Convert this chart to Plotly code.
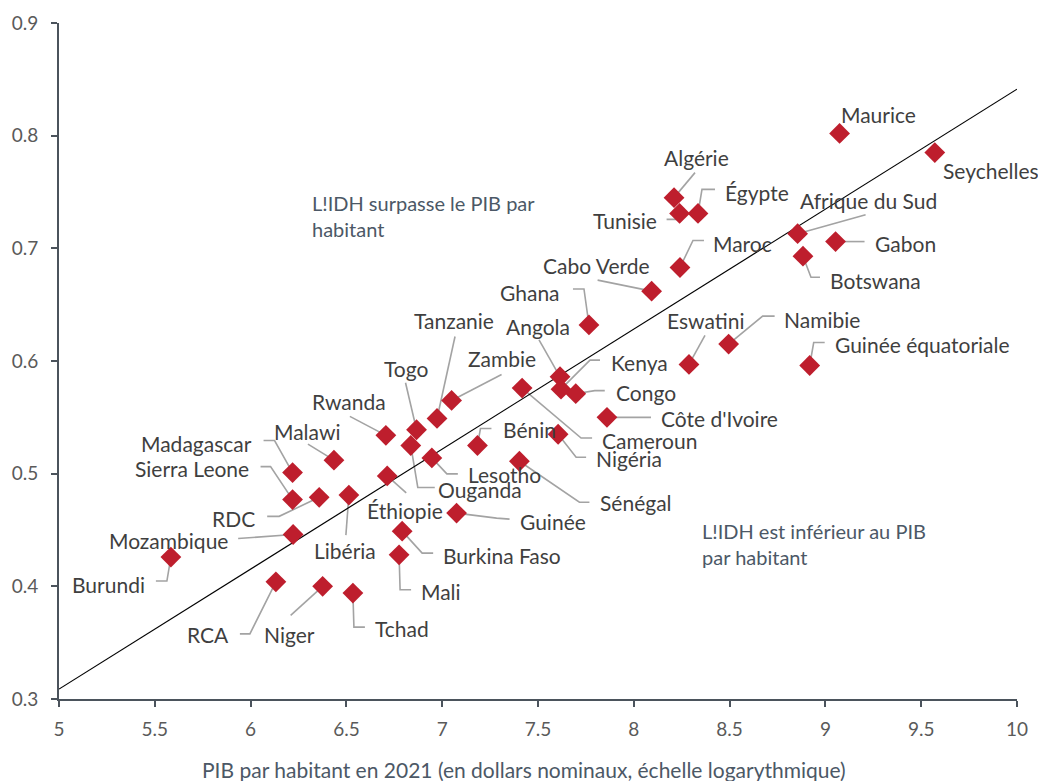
import plotly.graph_objects as go

# ---------------- data ----------------
countries = [
    "Maurice", "Seychelles", "Algérie", "Égypte", "Tunisie", "Afrique du Sud",
    "Gabon", "Botswana", "Maroc", "Cabo Verde", "Ghana", "Angola", "Kenya",
    "Congo", "Côte d'Ivoire", "Cameroun", "Nigéria", "Sénégal", "Bénin",
    "Zambie", "Tanzanie", "Togo", "Rwanda", "Ouganda", "Lesotho", "Malawi",
    "Madagascar", "Sierra Leone", "RDC", "Libéria", "Éthiopie", "Mozambique",
    "Burundi", "RCA", "Niger", "Tchad", "Mali", "Burkina Faso", "Guinée",
    "Namibie", "Eswatini", "Guinée équatoriale",
]
log_gdp = [
    9.074, 9.571, 8.210, 8.335, 8.239, 8.855,
    9.053, 8.883, 8.241, 8.093, 7.766, 7.615, 7.620,
    7.697, 7.860, 7.417, 7.605, 7.403, 7.184,
    7.049, 6.973, 6.866, 6.706, 6.836, 6.946, 6.435,
    6.219, 6.219, 6.358, 6.513, 6.713, 6.222,
    5.584, 6.132, 6.376, 6.534, 6.775, 6.791, 7.075,
    8.495, 8.288, 8.918,
]
hdi = [
    0.802, 0.785, 0.745, 0.731, 0.731, 0.713,
    0.706, 0.693, 0.683, 0.662, 0.632, 0.586, 0.575,
    0.571, 0.550, 0.576, 0.535, 0.511, 0.525,
    0.565, 0.549, 0.539, 0.534, 0.525, 0.514, 0.512,
    0.501, 0.477, 0.479, 0.481, 0.498, 0.446,
    0.426, 0.404, 0.400, 0.394, 0.428, 0.449, 0.465,
    0.615, 0.597, 0.596,
]

x_ticks = [5, 5.5, 6, 6.5, 7, 7.5, 8, 8.5, 9, 9.5, 10]
y_ticks = [0.3, 0.4, 0.5, 0.6, 0.7, 0.8, 0.9]

trend_slope = 0.1065
trend_intercept = -0.2237
trend_x = [5, 10]

x_title = "PIB par habitant en 2021 (en dollars nominaux, échelle logarythmique)"
note_above = "L!IDH surpasse le PIB par<br>habitant"
note_below = "L!IDH est inférieur au PIB<br>par habitant"

# ---------------- label placement (screen-pixel offsets from each point) ----------------
# anchor, label dx, label dy, leader path offsets (dy positive = downward on screen)
label_style = {
    "Maurice": ("center", 39, -19, []),
    "Seychelles": ("left", 6, 18, []),
    "Algérie": ("center", 22, -40, [(21, -25), (0, 0)]),
    "Égypte": ("left", 25, -21, [(17, -24), (4, -24), (0, 0)]),
    "Tunisie": ("right", -21, 7, [(-13, 6), (0, 6), (0, 0)]),
    "Afrique du Sud": ("left", 0, -33, [(68, -19), (0, 0)]),
    "Gabon": ("left", 37, 2, [(29, 0), (0, 0)]),
    "Botswana": ("left", 25, 24, [(17, 21), (8, 21), (0, 0)]),
    "Maroc": ("left", 31, -24, [(24, -27), (13, -27), (0, 0)]),
    "Cabo Verde": ("right", 0, -26, [(-54, -11), (0, 0)]),
    "Ghana": ("right", -27, -32, [(-16, -36), (-5, -36), (0, 0)]),
    "Angola": ("center", -22, -50, [(-21, -37), (0, 0)]),
    "Kenya": ("left", 48, -27, [(39, -29), (29, -29), (0, 0)]),
    "Congo": ("left", 38, -1, [(29, -3), (19, -3), (0, 0)]),
    "Côte d'Ivoire": ("left", 52, 1, [(44, 0), (0, 0)]),
    "Cameroun": ("left", 78, 52, [(70, 50), (59, 50), (0, 0)]),
    "Nigéria": ("left", 36, 24, [(28, 23), (18, 23), (0, 0)]),
    "Sénégal": ("left", 79, 41, [(70, 41), (60, 41), (0, 0)]),
    "Bénin": ("left", 24, -16, [(14, -17), (3, -17), (0, 0)]),
    "Zambie": ("center", 50, -42, [(50, -26), (0, 0)]),
    "Tanzanie": ("center", 17, -98, [(18, -82), (0, 0)]),
    "Togo": ("center", -11, -61, [(-11, -47), (0, 0)]),
    "Rwanda": ("center", -37, -34, [(-36, -19), (0, 0)]),
    "Ouganda": ("left", 25, 44, [(24, 42), (7, 42), (0, 0)]),
    "Lesotho": ("left", 34, 17, [(26, 16), (15, 16), (0, 0)]),
    "Malawi": ("center", -26, -29, [(-26, -16), (0, 0)]),
    "Madagascar": ("right", -39, -29, [(-29, -32), (-18, -32), (0, 0)]),
    "Sierra Leone": ("right", -42, -31, [(-32, -33), (-22, -33), (0, 0)]),
    "RDC": ("right", -62, 21, [(-52, 19), (-40, 19), (0, 0)]),
    "Libéria": ("center", -4, 55, [(-3, 40), (0, 0)]),
    "Éthiopie": ("center", 18, 35, [(19, 17), (0, 0)]),
    "Mozambique": ("right", -63, 6, [(-55, 4), (0, 0)]),
    "Burundi": ("right", -24, 27, [(-15, 24), (-4, 24), (0, 0)]),
    "RCA": ("right", -45, 53, [(-36, 52), (-26, 52), (0, 0)]),
    "Niger": ("center", -33, 48, [(-32, 29), (0, 0)]),
    "Tchad": ("left", 20, 35, [(12, 34), (1, 34), (0, 0)]),
    "Mali": ("left", 20, 37, [(12, 35), (1, 35), (0, 0)]),
    "Burkina Faso": ("left", 39, 24, [(31, 22), (20, 22), (0, 0)]),
    "Guinée": ("left", 61, 8, [(53, 6), (40, 5), (0, 0)]),
    "Namibie": ("left", 53, -25, [(46, -28), (34, -28), (0, 0)]),
    "Eswatini": ("center", 17, -44, [(16, -29), (0, 0)]),
    "Guinée équatoriale": ("left", 23, -21, [(15, -23), (4, -23), (0, 0)]),
}

FONT = "Lato, 'Open Sans', sans-serif"
TEXT_COL = "#3f3f3f"
NOTE_COL = "#4c5866"
AXIS_COL = "#4b535c"
RED = "#be1e2d"
LEADER_COL = "#a3a3a3"

fig = go.Figure()

# regression line
fig.add_trace(go.Scatter(
    x=trend_x,
    y=[trend_intercept + trend_slope * v for v in trend_x],
    mode="lines", line=dict(color="black", width=1.2),
    hoverinfo="skip", showlegend=False,
))

# points
fig.add_trace(go.Scatter(
    x=log_gdp, y=hdi, mode="markers", text=countries,
    marker=dict(symbol="diamond", size=16, color=RED, line=dict(width=0)),
    showlegend=False, cliponaxis=False,
))

shapes = []
annotations = []
for name, xv, yv in zip(countries, log_gdp, hdi):
    anchor, dx, dy, path = label_style[name]
    annotations.append(dict(
        x=xv, y=yv, xref="x", yref="y", text=name, showarrow=False,
        xanchor=anchor, yanchor="middle", xshift=dx, yshift=-dy,
        font=dict(family=FONT, size=21, color=TEXT_COL),
    ))
    if path:
        d = "M " + " L ".join(f"{px},{-py}" for px, py in path)
        shapes.append(dict(
            type="path", path=d, xref="x", yref="y",
            xsizemode="pixel", ysizemode="pixel", xanchor=xv, yanchor=yv,
            line=dict(color=LEADER_COL, width=1.6), layer="below",
        ))

# notes
L, R, T, B = 59, 21, 23, 82
W, H = 1038, 781
pw, ph = W - L - R, H - T - B


def px2paper(px, py):
    return (px - L) / pw, (H - B - py) / ph


nx, ny = px2paper(310, 216)
annotations.append(dict(x=nx, y=ny, xref="paper", yref="paper", text=note_above,
                        showarrow=False, xanchor="left", yanchor="middle", align="left",
                        font=dict(family=FONT, size=20, color=NOTE_COL)))
nx, ny = px2paper(700, 544)
annotations.append(dict(x=nx, y=ny, xref="paper", yref="paper", text=note_below,
                        showarrow=False, xanchor="left", yanchor="middle", align="left",
                        font=dict(family=FONT, size=20, color=NOTE_COL)))
tx, ty = px2paper(524, 769)
annotations.append(dict(x=tx, y=ty, xref="paper", yref="paper", text=x_title,
                        showarrow=False, xanchor="center", yanchor="middle",
                        font=dict(family=FONT, size=21, color=NOTE_COL)))

fig.update_layout(
    width=W, height=H,
    margin=dict(l=L, r=R, t=T, b=B, autoexpand=False),
    plot_bgcolor="white", paper_bgcolor="white",
    shapes=shapes, annotations=annotations,
    xaxis=dict(range=[5, 10], tickvals=x_ticks, ticktext=[f"{v:g}" for v in x_ticks],
               showgrid=False, zeroline=False, automargin=False,
               showline=True, linecolor=AXIS_COL, linewidth=2,
               ticks="outside", ticklen=6, tickwidth=2, tickcolor=AXIS_COL,
               tickfont=dict(family=FONT, size=19, color="#5a5a5a"),
               ticklabelstandoff=6),
    yaxis=dict(range=[0.3, 0.9], tickvals=y_ticks, ticktext=[f"{v:g}" for v in y_ticks],
               showgrid=False, zeroline=False, automargin=False,
               showline=True, linecolor=AXIS_COL, linewidth=2,
               ticks="outside", ticklen=6, tickwidth=2, tickcolor=AXIS_COL,
               tickfont=dict(family=FONT, size=19, color="#5a5a5a"),
               ticklabelstandoff=9),
)

fig.write_html("out.html",
               config={"displayModeBar": False},
               post_script="document.body.style.margin='0px';document.body.style.overflow='hidden';")
